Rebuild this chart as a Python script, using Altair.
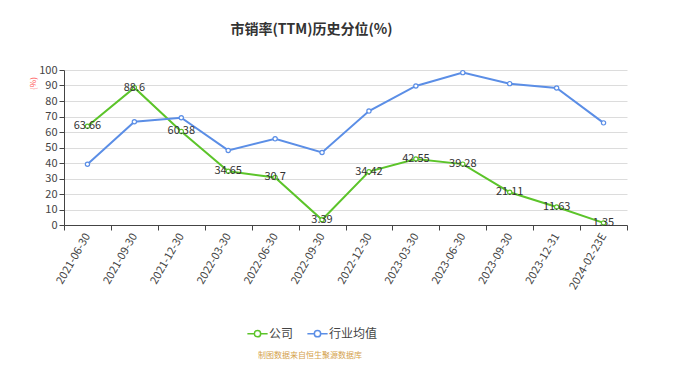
import altair as alt
import pandas as pd

dates = ["2021-06-30", "2021-09-30", "2021-12-30", "2022-03-30", "2022-06-30", "2022-09-30",
         "2022-12-30", "2023-03-30", "2023-06-30", "2023-09-30", "2023-12-31", "2024-02-23E"]
company = [63.66, 88.6, 60.38, 34.65, 30.7, 3.39, 34.42, 42.55, 39.28, 21.11, 11.63, 1.35]
industry = [39.2, 66.6, 69.2, 48.1, 55.6, 46.8, 73.5, 89.7, 98.3, 91.2, 88.4, 65.9]
series = ["公司", "行业均值"]
colors = ["#5cc42a", "#5b8ee6"]

rows = []
for d, c, i in zip(dates, company, industry):
    rows.append({"date": d, "series": series[0], "value": c})
    rows.append({"date": d, "series": series[1], "value": i})
df = pd.DataFrame(rows)

FONT = "Noto Sans CJK SC"
legend_path = "M-1.6,0 L-0.5,0 M0.5,0 L1.6,0 M-0.5,0 A0.5,0.5 0 1 1 0.5,0 A0.5,0.5 0 1 1 -0.5,0 Z"

x = alt.X("date:N", sort=dates, title=None,
          scale=alt.Scale(paddingInner=0, paddingOuter=0),
          axis=alt.Axis(labelAngle=-60, labelAlign="right", labelBaseline="middle",
                        labelFontSize=11, labelColor="#444", labelPadding=4,
                        tickBand="extent", tickSize=5, tickColor="#444",
                        domainColor="#444", grid=False, labelFont=FONT))
y = alt.Y("value:Q", title="(%)",
          scale=alt.Scale(domain=[0, 100], nice=False),
          axis=alt.Axis(values=list(range(0, 101, 10)), labelFontSize=11, labelColor="#444",
                        tickSize=5, tickColor="#444", domain=True, domainColor="#444",
                        gridColor="#dcdcdc", titleColor="#ff4d4f", titleFontSize=8,
                        titleFontWeight="normal", titleX=-27, titleY=13, titleAngle=-90,
                        titleFont=FONT, labelFont=FONT))
color = alt.Color("series:N", sort=series,
                  scale=alt.Scale(domain=series, range=colors),
                  legend=alt.Legend(title=None, orient="none", direction="horizontal",
                                    legendX=186, legendY=256, symbolType=legend_path,
                                    symbolSize=160, symbolStrokeWidth=1.5,
                                    symbolFillColor="white", labelFontSize=12,
                                    labelColor="#444", labelFont=FONT, columnPadding=10,
                                    symbolOffset=0))

base = alt.Chart(df)
lines = base.mark_line(strokeWidth=2).encode(x=x, y=y, color=color)
points = base.mark_point(filled=True, fill="white", size=18, strokeWidth=1.2, opacity=1).encode(
    x=x, y=y, stroke=alt.Stroke("series:N", scale=alt.Scale(domain=series, range=colors), legend=None))
labels = base.transform_filter(alt.datum.series == "公司").mark_text(
    fontSize=11, color="#333", baseline="middle", font=FONT).encode(
    x=x, y=y, text=alt.Text("value:Q"))

src = alt.Chart(pd.DataFrame({"t": ["制图数据来自恒生聚源数据库"]})).mark_text(
    fontSize=8, color="#d4a24c", font=FONT, align="center").encode(
    x=alt.value(246), y=alt.value(286), text="t:N")

chart = alt.layer(lines, points, labels, src).properties(
    width=563, height=155,
    autosize=alt.AutoSizeParams(type="none"),
    padding={"left": 56, "top": 62, "right": 49, "bottom": 141},
    title=alt.TitleParams("市销率(TTM)历史分位(%)", fontSize=14, fontWeight="bold",
                          color="#333", font=FONT, anchor="middle", dx=-34, offset=27),
).configure_view(stroke=None).configure_axis(labelFont=FONT)

chart.save("out.html", embed_options={"renderer": "svg", "actions": False})
